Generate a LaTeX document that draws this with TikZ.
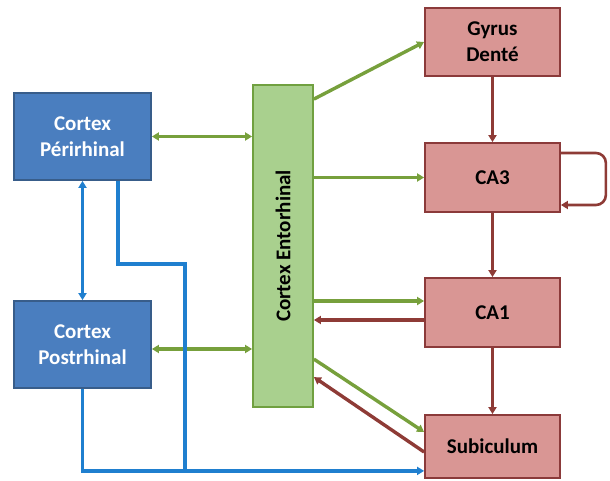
\documentclass[tikz,border=0pt]{standalone}
\usepackage{fontspec}
\setmainfont{Carlito}
\usetikzlibrary{arrows.meta,calc}
\definecolor{bluefill}{HTML}{4A7EBF}
\definecolor{blueline}{HTML}{385D8A}
\definecolor{greenfill}{HTML}{A9D08E}
\definecolor{greenline}{HTML}{70A040}
\definecolor{redfill}{HTML}{D99694}
\definecolor{redline}{HTML}{8B3A3A}
\definecolor{garrow}{HTML}{77A03C}
\definecolor{barrow}{HTML}{8E3B36}
\definecolor{blarrow}{HTML}{1F7FCF}
\tikzset{
  bluebox/.style={draw=blueline,fill=bluefill,line width=1.8pt,inner sep=0pt,minimum width=137pt,minimum height=87pt,align=center,text=white,font=\fontsize{21}{26}\selectfont\bfseries},
  redbox/.style={draw=redline,fill=redfill,line width=1.8pt,inner sep=0pt,minimum width=135pt,align=center,text=black,font=\fontsize{21}{26}\selectfont\bfseries},
  greenbox/.style={draw=greenline,fill=greenfill,line width=1.8pt,inner sep=0pt,minimum width=60pt,minimum height=322pt},
  tip/.style={-{Triangle[length=7pt,width=8pt]}},
  dtip/.style={{Triangle[length=7pt,width=8pt]}-{Triangle[length=7pt,width=8pt]}},
  garr/.style={draw=garrow,line width=3.4pt},
  barr/.style={draw=barrow,line width=3.4pt},
  blarr/.style={draw=blarrow,line width=3.4pt},
}
\begin{document}
\begin{tikzpicture}[x=1pt,y=-1pt]
\useasboundingbox (0,0) rectangle (610,481);
% nodes
\node[bluebox] (peri) at (82.5,136.5) {Cortex\\Périrhinal};
\node[bluebox] (post) at (82.5,344.5) {Cortex\\Postrhinal};
\node[greenbox] (ento) at (283,246) {};
\node[rotate=90,font=\fontsize{21}{24}\selectfont\bfseries] (entolab) at (ento.center) {Cortex Entorhinal};
\node[redbox,minimum height=68pt] (gyrus) at (492.5,42) {Gyrus\\Denté};
\node[redbox,minimum height=69pt] (ca3) at (492.5,177.5) {CA3};
\node[redbox,minimum height=69pt] (ca1) at (492.5,312.5) {CA1};
\node[redbox,minimum height=63pt] (sub) at (492.5,446.5) {Subiculum};
% coordinates
\coordinate (e1) at ($(ento.north east)+(0,15)$);
\coordinate (pp1) at ($(peri.south)+(35.5,0)$);
\coordinate (pp2) at ($(peri.south)+(35.5,83)$);
\coordinate (pp3) at ($(peri.south)+(102.5,83)$);
\coordinate (pp4) at ($(peri.south)+(102.5,290)$);
\coordinate (po1) at ($(post.south)+(0,82)$);
\coordinate (l1) at ($(ca3.east)+(0,-24.5)$);
\coordinate (l2) at ($(ca3.east)+(45,-24.5)$);
\coordinate (l3) at ($(ca3.east)+(45,27.5)$);
\coordinate (l4) at ($(ca3.east)+(0,27.5)$);
% green arrows
\draw[garr,dtip] (peri.east) -- (peri.east -| ento.west);
\draw[garr,dtip] ($(post.east)+(0,4.5)$) -- ($(post.east -| ento.west)+(0,4.5)$);
\draw[garr,tip] (e1) -- (gyrus.west);
\draw[garr,tip] (ca3.west -| ento.east) -- (ca3.west);
\draw[garr,tip] ($(ca1.west -| ento.east)+(0,-11.5)$) -- ($(ca1.west)+(0,-11.5)$);
\draw[garr,tip] ($(ento.north east)+(0,275)$) -- ($(sub.west)+(0,-14.5)$);
% brown arrows
\draw[barr,tip] ($(ca1.west)+(0,7.5)$) -- ($(ca1.west -| ento.east)+(0,7.5)$);
\draw[barr,tip] ($(sub.west)+(0,5.5)$) -- ($(ento.north east)+(0,293)$);
\draw[barr,tip] (gyrus.south) -- (ca3.north);
\draw[barr,tip] (ca3.south) -- (ca1.north);
\draw[barr,tip] (ca1.south) -- (sub.north);
\draw[barr,tip,line width=2.6pt,rounded corners=10pt] (l1) -- (l2) -- (l3) -- (l4);
% blue arrows
\draw[blarr,dtip] (peri.south) -- (post.north);
\draw[blarr,line join=miter] (pp1) -- (pp2) -- (pp3) -- (pp4);
\draw[blarr,tip] (post.south) -- (po1) -- (po1 -| sub.west);
\end{tikzpicture}
\end{document}
